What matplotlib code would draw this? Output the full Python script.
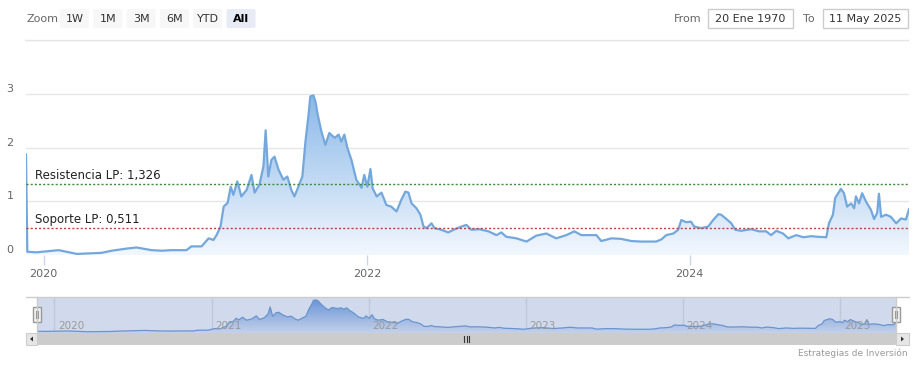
import numpy as np
import pandas as pd
import matplotlib.pyplot as plt
import matplotlib.dates as mdates
from matplotlib.patches import Rectangle, FancyBboxPatch, Polygon
from matplotlib.colors import LinearSegmentedColormap

# price series
dates = [
    "2019-11-22", "2019-11-25", "2019-12-16", "2020-02-04", "2020-03-16", "2020-05-11",
    "2020-06-03", "2020-07-07", "2020-07-29", "2020-09-01", "2020-09-24", "2020-10-16",
    "2020-11-19", "2020-11-30", "2020-12-23", "2021-01-08", "2021-01-19", "2021-01-26",
    "2021-02-04", "2021-02-11", "2021-02-20", "2021-02-27", "2021-03-05", "2021-03-14",
    "2021-03-23", "2021-04-04", "2021-04-15", "2021-04-22", "2021-05-03", "2021-05-12",
    "2021-05-17", "2021-05-23", "2021-05-30", "2021-06-06", "2021-06-15", "2021-06-26",
    "2021-07-05", "2021-07-14", "2021-07-21", "2021-07-30", "2021-08-08", "2021-08-15",
    "2021-08-22", "2021-08-26", "2021-09-02", "2021-09-07", "2021-09-11", "2021-09-20",
    "2021-09-29", "2021-10-08", "2021-10-20", "2021-10-29", "2021-11-04", "2021-11-11",
    "2021-11-18", "2021-11-27", "2021-12-08", "2021-12-20", "2021-12-26", "2022-01-02",
    "2022-01-09", "2022-01-14", "2022-01-23", "2022-02-03", "2022-02-14", "2022-02-25",
    "2022-03-09", "2022-03-20", "2022-03-29", "2022-04-05", "2022-04-12", "2022-04-23",
    "2022-05-02", "2022-05-09", "2022-05-16", "2022-05-27", "2022-06-03", "2022-06-18",
    "2022-07-04", "2022-07-16", "2022-08-03", "2022-08-14", "2022-08-25", "2022-09-12",
    "2022-10-03", "2022-10-21", "2022-11-01", "2022-11-12", "2022-12-05", "2022-12-28",
    "2023-01-19", "2023-02-11", "2023-03-05", "2023-03-28", "2023-04-15", "2023-05-01",
    "2023-06-04", "2023-06-15", "2023-07-08", "2023-07-30", "2023-08-22", "2023-09-13",
    "2023-10-17", "2023-10-29", "2023-11-09", "2023-11-25", "2023-12-06", "2023-12-13",
    "2023-12-24", "2024-01-04", "2024-01-11", "2024-01-27", "2024-02-12", "2024-02-23",
    "2024-03-06", "2024-03-12", "2024-03-24", "2024-04-04", "2024-04-13", "2024-04-26",
    "2024-05-19", "2024-06-06", "2024-06-22", "2024-07-03", "2024-07-15", "2024-07-30",
    "2024-08-11", "2024-08-29", "2024-09-14", "2024-10-02", "2024-10-15", "2024-11-05",
    "2024-11-11", "2024-11-20", "2024-11-25", "2024-12-02", "2024-12-08", "2024-12-15",
    "2024-12-22", "2024-12-31", "2025-01-07", "2025-01-11", "2025-01-18", "2025-01-25",
    "2025-02-03", "2025-02-14", "2025-02-21", "2025-02-28", "2025-03-04", "2025-03-09",
    "2025-03-20", "2025-03-31", "2025-04-12", "2025-04-23", "2025-05-04", "2025-05-11",
]
values = [
    1.87, 0.06, 0.05, 0.09, 0.02, 0.04,
    0.08, 0.12, 0.14, 0.09, 0.08, 0.09,
    0.09, 0.16, 0.16, 0.31, 0.28, 0.37,
    0.53, 0.90, 0.97, 1.27, 1.12, 1.37,
    1.09, 1.21, 1.49, 1.16, 1.31, 1.65,
    2.32, 1.46, 1.77, 1.83, 1.59, 1.40,
    1.46, 1.21, 1.09, 1.27, 1.46, 2.11,
    2.61, 2.95, 2.97, 2.84, 2.64, 2.30,
    2.05, 2.27, 2.18, 2.24, 2.11, 2.24,
    1.99, 1.77, 1.40, 1.25, 1.49, 1.27,
    1.60, 1.24, 1.09, 1.16, 0.93, 0.90,
    0.81, 1.03, 1.18, 1.16, 0.96, 0.87,
    0.75, 0.53, 0.50, 0.59, 0.50, 0.47,
    0.42, 0.47, 0.53, 0.56, 0.47, 0.48,
    0.44, 0.37, 0.42, 0.34, 0.31, 0.25,
    0.36, 0.40, 0.31, 0.37, 0.44, 0.37,
    0.37, 0.26, 0.31, 0.30, 0.26, 0.25,
    0.25, 0.29, 0.37, 0.40, 0.47, 0.65,
    0.61, 0.62, 0.53, 0.50, 0.53, 0.65,
    0.76, 0.75, 0.67, 0.59, 0.47, 0.45,
    0.48, 0.44, 0.44, 0.37, 0.45, 0.40,
    0.31, 0.37, 0.33, 0.35, 0.34, 0.33,
    0.59, 0.75, 1.06, 1.15, 1.23, 1.15,
    0.90, 0.96, 0.87, 1.09, 0.96, 1.15,
    0.99, 0.84, 0.67, 0.78, 1.14, 0.71,
    0.75, 0.71, 0.59, 0.68, 0.66, 0.85,
]
resistance = 1.326
support = 0.511
resistance_label = "Resistencia LP: 1,326"
support_label = "Soporte LP: 0,511"
y_ticks = [0, 1, 2, 3]
x_tick_years = ["2020", "2022", "2024"]
nav_years = ["2020", "2021", "2022", "2023", "2024", "2025"]
zoom_buttons = ["1W", "1M", "3M", "6M", "YTD", "All"]
date_from = "20 Ene 1970"
date_to = "11 May 2025"
credits = "Estrategias de Inversión"

W, H = 922, 369
plt.rcParams["font.family"] = ["DejaVu Sans"]

xs = mdates.date2num(pd.to_datetime(dates))
ys = np.array(values)


def box(x0, y0, x1, y1):
    # pixel box (top-left origin) -> figure fraction rect
    return [x0 / W, 1 - y1 / H, (x1 - x0) / W, (y1 - y0) / H]


def gradient_area(ax, x, y, c_bot, c_top, ybot, ytop, z=1):
    poly = ax.fill_between(x, y, ybot, color="none", lw=0)
    path = poly.get_paths()[0]
    cmap = LinearSegmentedColormap.from_list("g", [c_bot, c_top])
    grad = np.linspace(0, 1, 256).reshape(-1, 1)
    im = ax.imshow(grad, aspect="auto", cmap=cmap, origin="lower",
                   extent=[x[0], x[-1], ybot, ytop], zorder=z, interpolation="bilinear")
    im.set_clip_path(path, transform=ax.transData)


fig = plt.figure(figsize=(W / 100, H / 100), dpi=100)

# ---- main chart
ax = fig.add_axes(box(26, 40, 909, 255))
gradient_area(ax, xs, ys, (0.95, 0.97, 0.995), (0.54, 0.72, 0.91), 0, 3.0)
ax.plot(xs, ys, color="#74a8dc", lw=1.6, zorder=3, solid_joinstyle="round")
for v in [0, 1, 2, 3, 4]:
    ax.axhline(v, color="#e6e6e6", lw=1, zorder=0)
ax.axhline(resistance, color="#3c8c3c", lw=1, ls=(0, (1.5, 1.5)), zorder=4)
ax.axhline(support, color="#b9433f", lw=1, ls=(0, (1.5, 1.5)), zorder=4)
ax.annotate(resistance_label, xy=(0, resistance), xycoords=("axes fraction", "data"),
            xytext=(9, 2), textcoords="offset pixels", fontsize=8.5, color="#222222",
            va="bottom", ha="left", zorder=5)
ax.annotate(support_label, xy=(0, support), xycoords=("axes fraction", "data"),
            xytext=(9, 2), textcoords="offset pixels", fontsize=8.5, color="#222222",
            va="bottom", ha="left", zorder=5)
for v in y_ticks:
    ax.annotate(str(v), xy=(0, v), xycoords=("axes fraction", "data"),
                xytext=(-16, 5), textcoords="offset pixels", fontsize=8,
                color="#666666", ha="center", va="center")
ax.set_xlim(xs[0], xs[-1])
ax.set_ylim(0, 4)
ax.set_yticks([])
ax.set_xticks(mdates.date2num(pd.to_datetime([y + "-01-01" for y in x_tick_years])), x_tick_years)
ax.tick_params(axis="x", length=7, width=1, color="#ccd6eb", labelcolor="#666666",
               labelsize=8, pad=3)
for s in ax.spines.values():
    s.set_visible(False)

# ---- navigator
nav = fig.add_axes(box(37, 297, 896, 333))
nav_ticks = mdates.date2num(pd.to_datetime([y + "-01-01" for y in nav_years]))
for t, lab in zip(nav_ticks, nav_years):
    nav.axvline(t, color="#e6e6e6", lw=1, zorder=0)
    nav.annotate(lab, xy=(t, 0), xycoords=("data", "axes fraction"), xytext=(4, 2),
                 textcoords="offset pixels", fontsize=7.5, color="#999999",
                 ha="left", va="bottom", zorder=6)
gradient_area(nav, xs[1:], ys[1:], (0.93, 0.95, 0.99), (0.42, 0.61, 0.87), -0.1, 3.0)
nav.plot(xs[1:], ys[1:], color="#6b9bd6", lw=0.9, zorder=3)
nav.add_patch(Rectangle((0, 0), 1, 1, transform=nav.transAxes,
                        color=(102 / 255, 133 / 255, 194 / 255, 0.3), lw=0, zorder=5))
nav.set_xlim(xs[0], xs[-1])
nav.set_ylim(-0.1, 3.25)
nav.set_xticks([])
nav.set_yticks([])
for s in nav.spines.values():
    s.set_visible(False)

# ---- UI chrome (pixel coordinates)
ui = fig.add_axes([0, 0, 1, 1], zorder=10)
ui.set_xlim(0, W)
ui.set_ylim(H, 0)
ui.axis("off")

ui.plot([25, 908], [40, 40], color="#e6e6e6", lw=1)
ui.text(26, 18.5, "Zoom", fontsize=8, color="#666666", ha="left", va="center")
bx = 60
for lab in zoom_buttons:
    w = 29
    sel = lab == "All"
    ui.add_patch(FancyBboxPatch((bx, 9), w, 19, boxstyle="round,pad=0,rounding_size=2",
                                fc="#e6ebf5" if sel else "#f7f7f7", ec="none"))
    ui.text(bx + w / 2, 18.5, lab, fontsize=8, color="#000000" if sel else "#333333",
            fontweight="bold" if sel else "normal", ha="center", va="center")
    bx += 33.3

ui.text(674, 18.5, "From", fontsize=8, color="#666666", ha="left", va="center")
ui.add_patch(Rectangle((708, 9), 85, 19, fc="white", ec="#cccccc", lw=1))
ui.text(750.5, 18.5, date_from, fontsize=8, color="#333333", ha="center", va="center")
ui.text(803, 18.5, "To", fontsize=8, color="#666666", ha="left", va="center")
ui.add_patch(Rectangle((823, 9), 85, 19, fc="white", ec="#cccccc", lw=1))
ui.text(865.5, 18.5, date_to, fontsize=8, color="#333333", ha="center", va="center")

# navigator outline + handles
ui.plot([26, 909], [297, 297], color="#cccccc", lw=1)
ui.plot([37, 37], [297, 333], color="#cccccc", lw=1)
ui.plot([896, 896], [297, 333], color="#cccccc", lw=1)
for hx in [37, 896]:
    ui.add_patch(Rectangle((hx - 4, 307), 8, 15, fc="#f2f2f2", ec="#999999", lw=1))
    ui.plot([hx - 1, hx - 1], [311, 318], color="#999999", lw=0.8)
    ui.plot([hx + 1, hx + 1], [311, 318], color="#999999", lw=0.8)

# scrollbar
ui.add_patch(Rectangle((26, 333), 883, 12, fc="#f2f2f2", ec="none"))
ui.add_patch(Rectangle((37, 333), 859, 12, fc="#cccccc", ec="none"))
ui.add_patch(Rectangle((26, 333), 11, 12, fc="#e6e6e6", ec="#cccccc", lw=0.8))
ui.add_patch(Rectangle((896, 333), 13, 12, fc="#e6e6e6", ec="#cccccc", lw=0.8))
ui.add_patch(Polygon([[30, 339], [33, 336.5], [33, 341.5]], closed=True, fc="#333333", ec="none"))
ui.add_patch(Polygon([[904, 339], [901, 336.5], [901, 341.5]], closed=True, fc="#333333", ec="none"))
for rx in [464, 466.5, 469]:
    ui.plot([rx, rx], [336, 342], color="#333333", lw=0.8)

ui.text(908, 353, credits, fontsize=6.5, color="#999999", ha="right", va="center")

fig.savefig("out.png", dpi=100)
